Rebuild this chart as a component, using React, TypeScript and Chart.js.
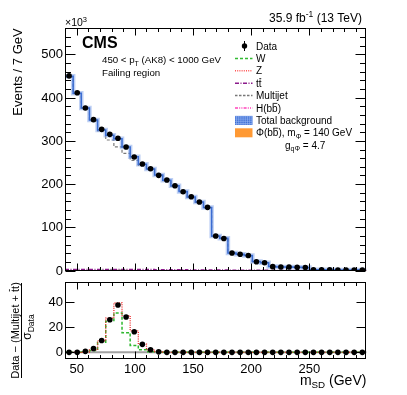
import React, { useEffect, useRef } from 'react';
import { Chart, registerables } from 'chart.js';

Chart.register(...registerables);

const FONT = "'Liberation Sans', Arial, Helvetica, sans-serif";

// ---- categories (bin centres of m_SD, GeV) ----
const binCenters = [43.5, 50.5, 57.5, 64.5, 71.5, 78.5, 85.5, 92.5, 99.5, 106.5, 113.5, 120.5, 127.5, 134.5, 141.5, 148.5, 155.5, 162.5, 169.5, 176.5, 183.5, 190.5, 197.5, 204.5, 211.5, 218.5, 225.5, 232.5, 239.5, 246.5, 253.5, 260.5, 267.5, 274.5, 281.5, 288.5, 295.5];
const binWidth = 7;

// ---- upper panel (events / 7 GeV, x10^3) ----
const dataEvents = [450, 411, 376, 349, 326.5, 315, 306, 285.7, 262.6, 246.4, 235.6, 220.3, 209.5, 196.3, 182.5, 171, 158.7, 146.4, 80.1, 74.5, 41, 38, 35, 20.8, 18.5, 9.3, 8.5, 8.5, 8, 7.5, 2.3, 2, 2, 1.5, 1.5, 1.5, 1.5];
const totalBackground = [449, 410, 376, 348, 325, 313, 305, 286, 263, 246, 235, 221, 209, 196, 183, 170, 159, 146, 80, 75, 41, 38, 35, 21, 18.5, 9.5, 8.5, 8.4, 8, 7.6, 2.3, 2, 2, 1.5, 1.5, 1.5, 1.5];
const multijet = [448, 409, 375, 346, 323, 302, 286, 271, 255, 243, 234, 220, 208, 195, 182, 169, 158, 145, 79, 74, 40, 37, 34, 20.5, 18, 9, 8, 8, 7.6, 7.2, 2, 1.8, 1.8, 1.3, 1.3, 1.3, 1.3];
const ttbar = [3, 3, 3, 3, 3, 3, 3, 3, 3, 3, 3, 2.5, 2.5, 2.5, 2.5, 2, 2, 2, 2, 2, 1.5, 1.5, 1.5, 1.5, 1.5, 1, 1, 1, 1, 1, 1, 0.8, 0.8, 0.8, 0.8, 0.8, 0.8];
const wBoson = [0, 0, 0.1, 0.3, 0.6, 1.2, 1.4, 0.9, 0.4, 0.2, 0.1, 0, 0, 0, 0, 0, 0, 0, 0, 0, 0, 0, 0, 0, 0, 0, 0, 0, 0, 0, 0, 0, 0, 0, 0, 0, 0];
const zBoson = [0, 0, 0, 0.1, 0.2, 0.4, 0.8, 1.0, 0.7, 0.3, 0.1, 0, 0, 0, 0, 0, 0, 0, 0, 0, 0, 0, 0, 0, 0, 0, 0, 0, 0, 0, 0, 0, 0, 0, 0, 0, 0];
const higgsBB = [0, 0, 0, 0, 0, 0, 0, 0.1, 0.2, 0.3, 0.4, 0.4, 0.3, 0.2, 0.1, 0, 0, 0, 0, 0, 0, 0, 0, 0, 0, 0, 0, 0, 0, 0, 0, 0, 0, 0, 0, 0, 0];
const phiSignal = [0, 0, 0, 0, 0, 0, 0, 0, 0, 0, 0, 0, 0.1, 0.2, 0.3, 0.4, 0.3, 0.2, 0.1, 0, 0, 0, 0, 0, 0, 0, 0, 0, 0, 0, 0, 0, 0, 0, 0, 0, 0];

// ---- lower panel: (Data - (Multijet + ttbar)) / sigma_Data ----
const pullData = [0, 0, 0.8, 3.1, 9.4, 25.7, 37.3, 27.9, 16.3, 6.3, 2.1, 0.4, 0, 0, 0, 0, 0, 0, 0, 0, 0, 0, 0, 0, 0, 0, 0, 0, 0, 0, 0, 0, 0, 0, 0, 0, 0];
const pullWZ = [0, 0, 0.3, 2, 9, 27, 39, 29, 17, 6.5, 2, 0.5, 0, 0, 0, 0, 0, 0, 0, 0, 0, 0, 0, 0, 0, 0, 0, 0, 0, 0, 0, 0, 0, 0, 0, 0, 0];
const pullW = [0, 0, 0.2, 1.5, 8, 24.5, 31, 15.5, 5.5, 2, 0.5, 0, 0, 0, 0, 0, 0, 0, 0, 0, 0, 0, 0, 0, 0, 0, 0, 0, 0, 0, 0, 0, 0, 0, 0, 0, 0];

// ---- tick labels ----
const upperYTicks = [0, 100, 200, 300, 400, 500];
const lowerYTicks = [0, 20, 40];
const xTickLabels = [50, 100, 150, 200, 250];

const X_MIN = 40;
const X_MAX = 299;

type Pt = { x: number; y: number };
function histPoints(values: number[]): Pt[] {
  const pts = values.map((v, i) => ({ x: binCenters[i] - binWidth / 2, y: v }));
  pts.push({ x: binCenters[values.length - 1] + binWidth / 2, y: values[values.length - 1] });
  return pts;
}
function pointData(values: number[]): Pt[] {
  return values.map((v, i) => ({ x: binCenters[i], y: v }));
}

type Part = { t: string; s: number; dy?: number; bold?: boolean; over?: number[] };
function partFont(p: Part) {
  return `${p.bold ? 'bold ' : ''}${p.s}px ${FONT}`;
}
function richWidth(ctx: CanvasRenderingContext2D, parts: Part[]) {
  let w = 0;
  for (const p of parts) {
    ctx.font = partFont(p);
    w += ctx.measureText(p.t).width;
  }
  return w;
}
function drawRich(ctx: CanvasRenderingContext2D, parts: Part[], x: number, y: number, align: 'left' | 'right' | 'center') {
  const total = richWidth(ctx, parts);
  let cx = align === 'left' ? x : align === 'right' ? x - total : x - total / 2;
  ctx.textAlign = 'left';
  ctx.textBaseline = 'alphabetic';
  for (const p of parts) {
    ctx.font = partFont(p);
    const w = ctx.measureText(p.t).width;
    ctx.fillText(p.t, cx, y + (p.dy || 0));
    if (p.over) {
      const [a, b] = p.over;
      const x0 = cx + ctx.measureText(p.t.slice(0, a)).width;
      const x1 = cx + ctx.measureText(p.t.slice(0, b)).width;
      const oy = y + (p.dy || 0) - p.s * 0.82;
      ctx.save();
      ctx.lineWidth = 0.8;
      ctx.strokeStyle = ctx.fillStyle as string;
      ctx.beginPath();
      ctx.moveTo(x0 + 0.5, oy);
      ctx.lineTo(x1 - 0.3, oy);
      ctx.stroke();
      ctx.restore();
    }
    cx += w;
  }
}

function hline(ctx: CanvasRenderingContext2D, x0: number, x1: number, y: number) {
  ctx.beginPath();
  ctx.moveTo(x0, y);
  ctx.lineTo(x1, y);
  ctx.stroke();
}
function vline(ctx: CanvasRenderingContext2D, x: number, y0: number, y1: number) {
  ctx.beginPath();
  ctx.moveTo(x, y0);
  ctx.lineTo(x, y1);
  ctx.stroke();
}

function drawFrameAndTicks(chart: any, yMajor: number[], yMinor: number[], yMajLen: number, yMinLen: number) {
  const { ctx, chartArea: a, scales } = chart;
  const xs = scales.x;
  const ys = scales.y;
  ctx.save();
  ctx.strokeStyle = '#000';
  ctx.lineWidth = 1;
  ctx.setLineDash([]);
  const L = Math.round(a.left) + 0.5;
  const R = Math.round(a.right) - 0.5;
  const T = Math.round(a.top) + 0.5;
  const B = Math.round(a.bottom) - 0.5;
  ctx.strokeRect(L, T, R - L, B - T);
  for (const v of yMajor) {
    const py = Math.round(ys.getPixelForValue(v)) + 0.5;
    hline(ctx, L, L + yMajLen, py);
    hline(ctx, R, R - yMajLen, py);
  }
  for (const v of yMinor) {
    const py = Math.round(ys.getPixelForValue(v)) + 0.5;
    hline(ctx, L, L + yMinLen, py);
    hline(ctx, R, R - yMinLen, py);
  }
  for (let v = 50; v <= 290; v += 10) {
    const px = Math.round(xs.getPixelForValue(v)) + 0.5;
    const len = v % 50 === 0 ? 7 : 3.5;
    vline(ctx, px, B, B - len);
    vline(ctx, px, T, T + len);
  }
  ctx.restore();
}

const upperDecor = {
  id: 'upperDecor',
  afterDraw(chart: any) {
    const { ctx, chartArea: a, scales } = chart;
    const ys = scales.y;
    const yMinor: number[] = [];
    for (let v = 20; v <= 560; v += 20) if (v % 100 !== 0) yMinor.push(v);
    drawFrameAndTicks(chart, upperYTicks, yMinor, 10, 5.5);

    ctx.save();
    ctx.fillStyle = '#000';
    ctx.font = `13px ${FONT}`;
    ctx.textAlign = 'right';
    ctx.textBaseline = 'middle';
    for (const v of upperYTicks) ctx.fillText(String(v), a.left - 2, ys.getPixelForValue(v) + 0.5);

    drawRich(ctx, [{ t: '×10', s: 10.5 }, { t: '3', s: 7.5, dy: -4.5 }], a.left, 26, 'left');
    drawRich(ctx, [{ t: '35.9 fb', s: 12 }, { t: '-1', s: 8.5, dy: -4.5 }, { t: ' (13 TeV)', s: 12 }], 362, 21.5, 'right');
    drawRich(ctx, [{ t: 'CMS', s: 16, bold: true }], 82, 48.3, 'left');
    drawRich(ctx, [{ t: '450 < p', s: 9.7 }, { t: 'T', s: 7, dy: 2.5 }, { t: ' (AK8) < 1000 GeV', s: 9.7 }], 102, 63.3, 'left');
    drawRich(ctx, [{ t: 'Failing region', s: 9.7 }], 102, 76, 'left');

    ctx.save();
    ctx.translate(22, a.top);
    ctx.rotate(-Math.PI / 2);
    drawRich(ctx, [{ t: 'Events / 7 GeV', s: 13 }], 0, 0, 'right');
    ctx.restore();

    // legend
    const lx0 = 235;
    const lx1 = 252.5;
    const tx = 256;
    const rowY = [46, 58.4, 70.8, 83.2, 95.6, 108, 120.4, 132.8, 145.2];
    const textY = (y: number) => y + 3.6;
    ctx.fillStyle = '#000';
    ctx.strokeStyle = '#000';
    ctx.lineWidth = 1;
    vline(ctx, 244.5, rowY[0] - 5, rowY[0] + 5);
    ctx.beginPath();
    ctx.arc(244.5, rowY[0], 2.7, 0, Math.PI * 2);
    ctx.fill();
    drawRich(ctx, [{ t: 'Data', s: 10 }], tx, textY(rowY[0]), 'left');
    const lineEntry = (y: number, color: string, dash: number[], parts: Part[]) => {
      ctx.save();
      ctx.strokeStyle = color;
      ctx.lineWidth = 1.5;
      ctx.setLineDash(dash);
      hline(ctx, lx0, lx1, y);
      ctx.restore();
      ctx.fillStyle = '#000';
      drawRich(ctx, parts, tx, textY(y), 'left');
    };
    lineEntry(rowY[1], '#33bb33', [3, 2], [{ t: 'W', s: 10 }]);
    lineEntry(rowY[2], '#ff5555', [1, 1.2], [{ t: 'Z', s: 10 }]);
    lineEntry(rowY[3], '#8b1a8b', [4, 1.5, 1, 1.5], [{ t: 'tt', s: 10, over: [1, 2] }]);
    lineEntry(rowY[4], '#777777', [2.5, 1.5], [{ t: 'Multijet', s: 10 }]);
    lineEntry(rowY[5], '#ff44bb', [3, 1.2, 1, 1.2, 1, 1.2], [{ t: 'H(bb)', s: 10, over: [3, 4] }]);
    ctx.save();
    ctx.fillStyle = '#3f6fd6';
    ctx.fillRect(lx0, rowY[6] - 4.5, lx1 - lx0, 9);
    ctx.strokeStyle = '#9ab8f2';
    ctx.lineWidth = 0.6;
    for (let gx = lx0 + 1.5; gx < lx1; gx += 2.2) vline(ctx, gx, rowY[6] - 4.5, rowY[6] + 4.5);
    for (let gy = rowY[6] - 3.5; gy < rowY[6] + 4.5; gy += 2.2) hline(ctx, lx0, lx1, gy);
    ctx.restore();
    ctx.fillStyle = '#000';
    drawRich(ctx, [{ t: 'Total background', s: 10 }], tx, textY(rowY[6]), 'left');
    ctx.fillStyle = '#ff9933';
    ctx.fillRect(lx0, rowY[7] - 4.5, lx1 - lx0, 9);
    ctx.fillStyle = '#000';
    drawRich(ctx, [{ t: 'Φ(bb), m', s: 10, over: [3, 4] }, { t: 'Φ', s: 7, dy: 2.5 }, { t: ' = 140 GeV', s: 10 }], tx, textY(rowY[7]), 'left');
    drawRich(ctx, [{ t: 'g', s: 10 }, { t: 'qΦ', s: 7, dy: 2.5 }, { t: ' = 4.7', s: 10 }], 285, textY(rowY[8]), 'left');
    ctx.restore();
  },
};

const lowerDecor = {
  id: 'lowerDecor',
  beforeDatasetsDraw(chart: any) {
    const { ctx, chartArea: a, scales } = chart;
    const py = scales.y.getPixelForValue(0);
    ctx.save();
    ctx.strokeStyle = '#a0a0a0';
    ctx.lineWidth = 2;
    hline(ctx, a.left, a.right, py);
    ctx.restore();
  },
  afterDraw(chart: any) {
    const { ctx, chartArea: a, scales } = chart;
    const xs = scales.x;
    const ys = scales.y;
    drawFrameAndTicks(chart, lowerYTicks, [], 9, 5);
    ctx.save();
    ctx.fillStyle = '#000';
    ctx.font = `13px ${FONT}`;
    ctx.textAlign = 'right';
    ctx.textBaseline = 'middle';
    for (const v of lowerYTicks) ctx.fillText(String(v), a.left - 2, ys.getPixelForValue(v) + 0.5);
    ctx.textAlign = 'center';
    ctx.textBaseline = 'alphabetic';
    for (const v of xTickLabels) ctx.fillText(String(v), xs.getPixelForValue(v), 372.5);

    drawRich(ctx, [{ t: 'm', s: 14 }, { t: 'SD', s: 9.8, dy: 3 }, { t: ' (GeV)', s: 14 }], a.right, 385, 'right');

    const cy = 330.5;
    ctx.save();
    ctx.translate(18.5, cy);
    ctx.rotate(-Math.PI / 2);
    drawRich(ctx, [{ t: 'Data − (Multijet + tt)', s: 11, over: [19, 20] }], 0, 0, 'center');
    ctx.restore();
    ctx.strokeStyle = '#000';
    ctx.lineWidth = 1;
    vline(ctx, 21.5, 283, 378);
    ctx.save();
    ctx.translate(31, 327);
    ctx.rotate(-Math.PI / 2);
    drawRich(ctx, [{ t: 'σ', s: 12 }, { t: 'Data', s: 8.5, dy: 2.5 }], 0, 0, 'center');
    ctx.restore();
    ctx.restore();
  },
};

function stepDataset(values: number[], color: string, width: number, dash: number[]) {
  return {
    data: histPoints(values),
    borderColor: color,
    backgroundColor: color,
    borderWidth: width,
    borderDash: dash,
    stepped: 'before' as const,
    pointRadius: 0,
    fill: false,
    tension: 0,
  };
}

function markerDataset(values: number[]) {
  return {
    data: pointData(values),
    showLine: false,
    pointRadius: 2.8,
    pointBorderWidth: 0,
    pointBackgroundColor: '#000',
    pointBorderColor: '#000',
    borderColor: '#000',
    backgroundColor: '#000',
  } as any;
}

export default function App() {
  const upperRef = useRef<HTMLCanvasElement | null>(null);
  const lowerRef = useRef<HTMLCanvasElement | null>(null);

  useEffect(() => {
    const W = 407;
    const H = 395;
    const upper = new Chart(upperRef.current as HTMLCanvasElement, {
      type: 'line',
      data: {
        datasets: [
          markerDataset(dataEvents),
          stepDataset(totalBackground, '#3a6cd2', 1.5, []),
          stepDataset(totalBackground, 'rgba(110,150,230,0.45)', 4.5, []),
          stepDataset(multijet, '#7a7a7a', 1.2, [3, 2]),
          stepDataset(ttbar, '#8b1a8b', 1.2, [4, 1.5, 1, 1.5]),
          stepDataset(wBoson, '#33bb33', 1.2, [3, 2]),
          stepDataset(zBoson, '#ff5555', 1.2, [1, 1.2]),
          stepDataset(higgsBB, '#ff44bb', 1.2, [3, 1.2, 1, 1.2]),
          stepDataset(phiSignal, '#ff9933', 1.2, []),
        ],
      },
      options: {
        animation: false,
        responsive: false,
        maintainAspectRatio: false,
        devicePixelRatio: 1,
        events: [],
        layout: { padding: { left: 65, right: W - 366.4, top: 28.3, bottom: H - 270.7 } },
        scales: {
          x: { type: 'linear', min: X_MIN, max: X_MAX, display: false },
          y: { type: 'linear', min: 0, max: 560, display: false },
        },
        plugins: { legend: { display: false }, tooltip: { enabled: false } },
      },
      plugins: [upperDecor],
    } as any);

    const lower = new Chart(lowerRef.current as HTMLCanvasElement, {
      type: 'line',
      data: {
        datasets: [
          markerDataset(pullData),
          stepDataset(pullWZ, '#ee2a2a', 1.3, [1, 1.2]),
          stepDataset(pullW, '#2eb82e', 1.5, [3, 2]),
        ],
      },
      options: {
        animation: false,
        responsive: false,
        maintainAspectRatio: false,
        devicePixelRatio: 1,
        events: [],
        layout: { padding: { left: 65, right: W - 366.4, top: 282, bottom: H - 358.7 } },
        scales: {
          x: { type: 'linear', min: X_MIN, max: X_MAX, display: false },
          y: { type: 'linear', min: -5, max: 55.5, display: false },
        },
        plugins: { legend: { display: false }, tooltip: { enabled: false } },
      },
      plugins: [lowerDecor],
    } as any);

    return () => {
      upper.destroy();
      lower.destroy();
    };
  }, []);

  const canvasStyle: React.CSSProperties = { position: 'absolute', left: 0, top: 0, width: 407, height: 395 };
  return (
    <div style={{ position: 'fixed', left: 0, top: 0, width: 407, height: 395, background: '#fff' }}>
      <canvas ref={lowerRef} width={407} height={395} style={canvasStyle} />
      <canvas ref={upperRef} width={407} height={395} style={canvasStyle} />
    </div>
  );
}
